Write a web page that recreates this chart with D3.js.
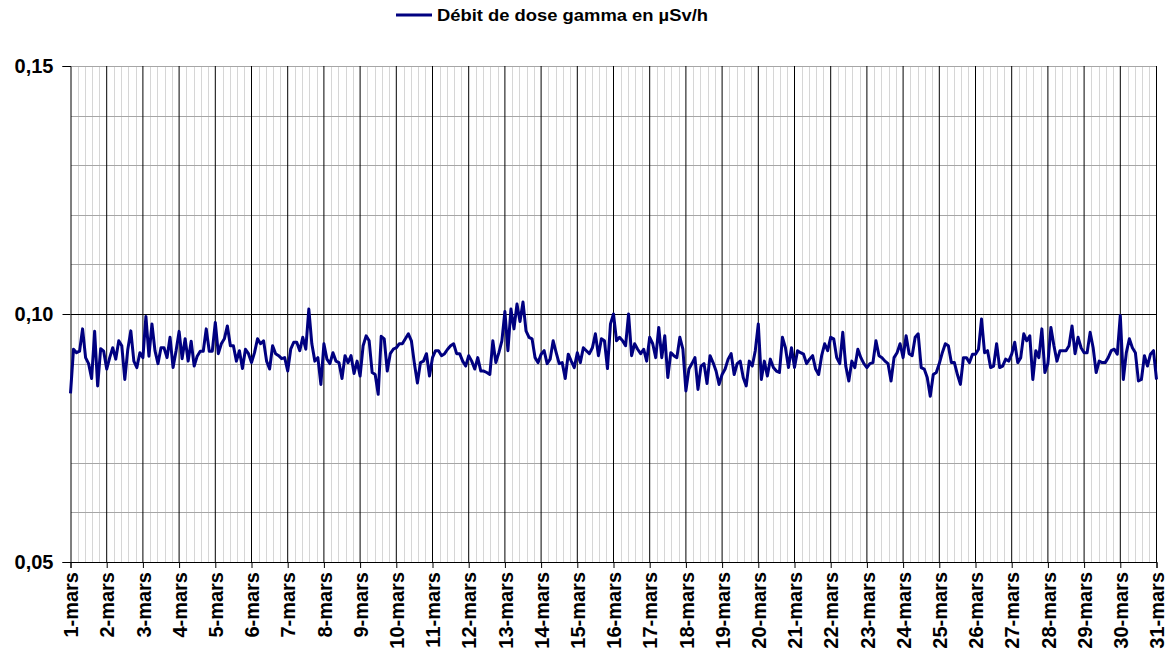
<!DOCTYPE html>
<html>
<head>
<meta charset="utf-8">
<title>Débit de dose gamma</title>
<script src="https://cdn.jsdelivr.net/npm/d3@7"></script>
<style>
body { margin: 0; background: #fff; }
svg text { font-family: "Liberation Sans", Arial, sans-serif; font-weight: bold; fill: #000; }
</style>
</head>
<body>
<svg width="1171" height="659"></svg>
<script>
var dayLabels = ['1-mars','2-mars','3-mars','4-mars','5-mars','6-mars','7-mars','8-mars','9-mars','10-mars',
  '11-mars','12-mars','13-mars','14-mars','15-mars','16-mars','17-mars','18-mars','19-mars','20-mars',
  '21-mars','22-mars','23-mars','24-mars','25-mars','26-mars','27-mars','28-mars','29-mars','30-mars','31-mars'];
var yTicks = [0.05, 0.10, 0.15];
var seriesName = 'Débit de dose gamma en µSv/h';
var samplesPerDay = 12; // one value every 2 hours

// µSv/h, one row per day (1-mars .. 30-mars), last value = 31-mars 0h
var doseRate = [
  .0840, .0929, .0922, .0925, .0970, .0912, .0900, .0870, .0965, .0855, .0930, .0925,
  .0889, .0912, .0932, .0909, .0946, .0936, .0868, .0929, .0966, .0905, .0892, .0922,
  .0912, .0995, .0915, .0980, .0926, .0900, .0932, .0932, .0912, .0953, .0892, .0926,
  .0965, .0910, .0950, .0905, .0945, .0895, .0915, .0925, .0925, .0970, .0925, .0925,
  .0983, .0920, .0940, .0950, .0976, .0936, .0936, .0905, .0926, .0890, .0929, .0920,
  .0902, .0922, .0950, .0940, .0946, .0905, .0889, .0936, .0920, .0916, .0910, .0912,
  .0885, .0929, .0943, .0943, .0926, .0953, .0929, .1010, .0940, .0905, .0912, .0858,
  .0940, .0909, .0900, .0922, .0905, .0902, .0870, .0916, .0902, .0916, .0880, .0905,
  .0875, .0936, .0956, .0946, .0882, .0878, .0838, .0955, .0950, .0885, .0920, .0929,
  .0932, .0940, .0940, .0950, .0960, .0946, .0900, .0861, .0902, .0905, .0920, .0875,
  .0912, .0926, .0926, .0916, .0920, .0929, .0936, .0940, .0920, .0920, .0905, .0895,
  .0916, .0905, .0889, .0912, .0885, .0885, .0882, .0878, .0946, .0902, .0922, .0946,
  .1005, .0926, .1010, .0970, .1020, .0985, .1024, .0966, .0953, .0950, .0912, .0902,
  .0919, .0926, .0900, .0909, .0946, .0922, .0900, .0902, .0870, .0919, .0905, .0892,
  .0922, .0902, .0932, .0926, .0920, .0932, .0960, .0916, .0950, .0946, .0890, .0980,
  .1000, .0946, .0953, .0946, .0936, .1000, .0916, .0940, .0929, .0920, .0929, .0905,
  .0953, .0940, .0912, .0973, .0912, .0956, .0872, .0922, .0916, .0912, .0953, .0929,
  .0845, .0889, .0900, .0912, .0848, .0895, .0900, .0860, .0916, .0902, .0885, .0858,
  .0878, .0889, .0909, .0920, .0878, .0900, .0905, .0872, .0855, .0905, .0895, .0926,
  .0980, .0868, .0905, .0875, .0909, .0892, .0885, .0882, .0953, .0932, .0892, .0932,
  .0892, .0926, .0922, .0919, .0900, .0909, .0916, .0889, .0878, .0916, .0940, .0926,
  .0953, .0950, .0912, .0900, .0963, .0895, .0865, .0905, .0892, .0929, .0912, .0900,
  .0892, .0900, .0902, .0946, .0916, .0912, .0905, .0900, .0865, .0912, .0922, .0940,
  .0912, .0956, .0920, .0916, .0953, .0960, .0892, .0889, .0872, .0834, .0878, .0882,
  .0900, .0922, .0940, .0936, .0902, .0902, .0878, .0858, .0912, .0912, .0902, .0919,
  .0919, .0929, .0990, .0922, .0926, .0892, .0895, .0940, .0892, .0895, .0909, .0905,
  .0919, .0943, .0902, .0912, .0960, .0946, .0956, .0868, .0926, .0912, .0970, .0882,
  .0900, .0973, .0936, .0905, .0926, .0926, .0926, .0936, .0976, .0920, .0953, .0932,
  .0922, .0922, .0963, .0932, .0882, .0905, .0902, .0902, .0912, .0926, .0929, .0919,
  .0997, .0868, .0922, .0950, .0932, .0922, .0865, .0868, .0916, .0895, .0919, .0926,
  .0868
];

var plotLeft = 70.5, plotRight = 1156.5, plotTop = 66, plotBottom = 562;

var svg = d3.select('svg');

var x = d3.scaleLinear()
  .domain([0, dayLabels.length - 1])   // day index, 0 = 1-mars
  .range([plotLeft, plotRight]);
var y = d3.scaleLinear()
  .domain([yTicks[0], yTicks[yTicks.length - 1]])
  .range([plotBottom, plotTop]);

var grid = svg.append('g').attr('shape-rendering', 'crispEdges');

// minor vertical lines, every 1/5 day
var minorX = d3.range(0, dayLabels.length - 1, 0.2).filter(function(d) {
  return Math.abs(d - Math.round(d)) > 0.01;
});
grid.selectAll('.vminor').data(minorX).enter().append('line')
  .attr('x1', function(d) { return Math.round(x(d)) + 0.5; })
  .attr('x2', function(d) { return Math.round(x(d)) + 0.5; })
  .attr('y1', plotTop).attr('y2', plotBottom)
  .attr('stroke', '#d6d6d6');

// minor horizontal lines every 0.01
var minorY = d3.range(0.06, 0.15, 0.01).filter(function(d) { return Math.abs(d - 0.10) > 0.001; });
grid.selectAll('.hminor').data(minorY).enter().append('line')
  .attr('x1', plotLeft).attr('x2', plotRight)
  .attr('y1', function(d) { return Math.round(y(d)) + 0.5; })
  .attr('y2', function(d) { return Math.round(y(d)) + 0.5; })
  .attr('stroke', '#a6a6a6');

// top border
grid.append('line')
  .attr('x1', plotLeft).attr('x2', plotRight)
  .attr('y1', Math.round(y(0.15)) + 0.5).attr('y2', Math.round(y(0.15)) + 0.5)
  .attr('stroke', '#a6a6a6');

// major vertical lines (days)
svg.append('g').selectAll('line').data(d3.range(1, dayLabels.length)).enter().append('line')
  .attr('x1', function(d) { return x(d); })
  .attr('x2', function(d) { return x(d); })
  .attr('y1', plotTop).attr('y2', plotBottom)
  .attr('stroke', '#000');

// major horizontal line 0,10
grid.append('line')
  .attr('x1', plotLeft).attr('x2', plotRight)
  .attr('y1', Math.round(y(0.10)) + 0.5).attr('y2', Math.round(y(0.10)) + 0.5)
  .attr('stroke', '#000');

// y axis
var yAxis = d3.axisLeft(y)
  .tickValues(yTicks)
  .tickSize(8)
  .tickFormat(function(d) { return d3.format('.2f')(d).replace('.', ','); });
var gy = svg.append('g')
  .attr('transform', 'translate(' + plotLeft + ',0)')
  .call(yAxis);
gy.select('.domain').attr('stroke', '#000');
gy.selectAll('text').attr('font-size', 20).attr('font-family', null).attr('x', -17);

// x axis
var xAxis = d3.axisBottom(x)
  .tickValues(d3.range(0, dayLabels.length))
  .tickSize(6)
  .tickFormat(function(d) { return dayLabels[d]; });
var gx = svg.append('g')
  .attr('transform', 'translate(0,' + plotBottom + ')')
  .call(xAxis);
gx.select('.domain').attr('stroke', '#000');
gx.selectAll('text')
  .attr('font-size', 20)
  .attr('font-family', null)
  .attr('text-anchor', 'end')
  .attr('transform', 'rotate(-90)')
  .attr('x', -10)
  .attr('y', 0)
  .attr('dy', '0.36em');

// series
var line = d3.line()
  .x(function(d, i) { return x(i / samplesPerDay); })
  .y(function(d) { return y(d); });
svg.append('path')
  .datum(doseRate)
  .attr('fill', 'none')
  .attr('stroke', '#000080')
  .attr('stroke-width', 3)
  .attr('stroke-linejoin', 'round')
  .attr('d', line);

// legend
var legend = svg.append('g').attr('transform', 'translate(396,15)');
legend.append('line')
  .attr('x1', 0).attr('x2', 36).attr('y1', 0).attr('y2', 0)
  .attr('stroke', '#000080').attr('stroke-width', 3);
legend.append('text')
  .attr('x', 41).attr('y', 6)
  .attr('font-size', 17)
  .attr('textLength', 271)
  .attr('lengthAdjust', 'spacingAndGlyphs')
  .text(seriesName);
</script>
</body>
</html>
